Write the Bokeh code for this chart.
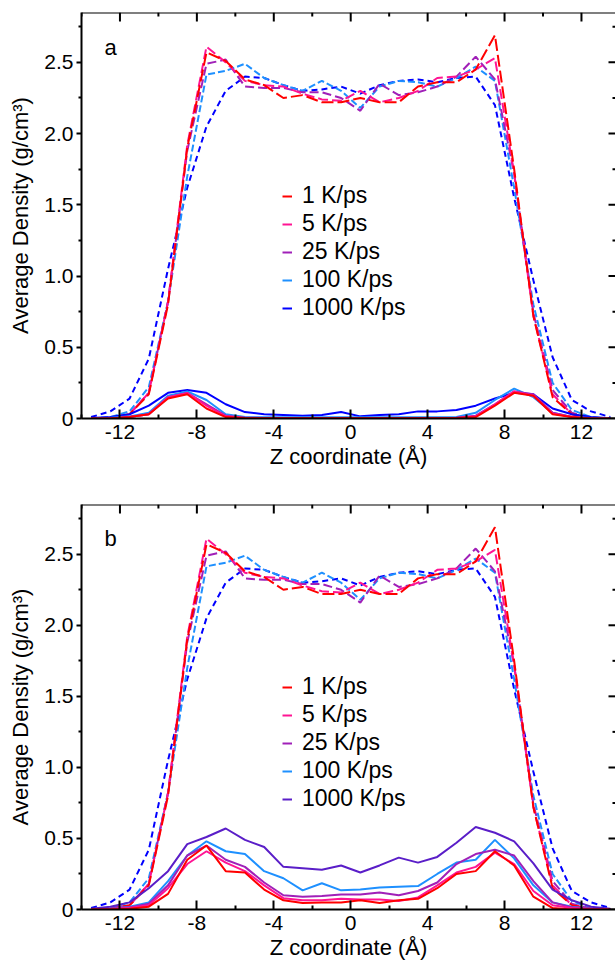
import math
from bokeh.plotting import figure
from bokeh.layouts import column
from bokeh.models import Legend, LegendItem, FixedTicker, Label, Range1d, Span
from bokeh.embed import file_html
from bokeh.resources import INLINE

# ---------------- data ----------------
z = [-13.5 + i for i in range(28)]
rates = ["1 K/ps", "5 K/ps", "25 K/ps", "100 K/ps", "1000 K/ps"]

# dashed curves (same in both panels)
dash_1 = [0.0, 0.005, 0.03, 0.17, 0.80, 1.90, 2.57, 2.51, 2.38, 2.34, 2.25, 2.27, 2.22, 2.22,
          2.25, 2.22, 2.22, 2.33, 2.36, 2.36, 2.45, 2.69, 1.75, 0.72, 0.15, 0.03, 0.005, 0.0]
dash_5 = [0.0, 0.005, 0.03, 0.18, 0.82, 1.92, 2.61, 2.50, 2.37, 2.34, 2.33, 2.28, 2.24, 2.23,
          2.30, 2.22, 2.25, 2.30, 2.39, 2.40, 2.45, 2.53, 1.72, 0.72, 0.17, 0.03, 0.005, 0.0]
dash_25 = [0.0, 0.005, 0.03, 0.18, 0.82, 1.88, 2.49, 2.52, 2.33, 2.32, 2.32, 2.29, 2.29, 2.25,
           2.16, 2.35, 2.27, 2.29, 2.33, 2.40, 2.54, 2.38, 1.72, 0.74, 0.20, 0.04, 0.005, 0.0]
dash_100 = [0.0, 0.01, 0.05, 0.22, 0.82, 1.70, 2.415, 2.44, 2.49, 2.39, 2.34, 2.30, 2.37, 2.30,
            2.18, 2.33, 2.37, 2.36, 2.33, 2.39, 2.47, 2.37, 1.62, 0.80, 0.25, 0.06, 0.01, 0.0]
dash_1000 = [0.01, 0.05, 0.14, 0.42, 1.05, 1.62, 2.05, 2.30, 2.40, 2.39, 2.34, 2.30, 2.31, 2.33,
             2.28, 2.34, 2.37, 2.38, 2.36, 2.39, 2.40, 2.20, 1.55, 0.97, 0.43, 0.13, 0.05, 0.01]

# solid curves, panel a
a_1 = [0.0, 0.0, 0.01, 0.03, 0.14, 0.17, 0.07, 0.01, 0.003, 0.002, 0.002, 0.002, 0.002, 0.002,
       0.002, 0.002, 0.002, 0.002, 0.002, 0.003, 0.01, 0.09, 0.18, 0.16, 0.03, 0.01, 0.0, 0.0]
a_5 = [0.0, 0.0, 0.01, 0.03, 0.15, 0.18, 0.09, 0.015, 0.004, 0.003, 0.003, 0.003, 0.003, 0.003,
       0.003, 0.003, 0.003, 0.003, 0.003, 0.004, 0.015, 0.10, 0.19, 0.16, 0.035, 0.01, 0.0, 0.0]
a_25 = [0.0, 0.0, 0.01, 0.03, 0.15, 0.18, 0.10, 0.02, 0.005, 0.004, 0.004, 0.004, 0.004, 0.004,
        0.004, 0.004, 0.004, 0.004, 0.004, 0.005, 0.02, 0.10, 0.19, 0.17, 0.04, 0.01, 0.0, 0.0]
a_100 = [0.0, 0.005, 0.015, 0.04, 0.16, 0.19, 0.13, 0.03, 0.01, 0.008, 0.008, 0.008, 0.008, 0.008,
         0.008, 0.008, 0.008, 0.008, 0.008, 0.01, 0.04, 0.13, 0.21, 0.15, 0.04, 0.01, 0.003, 0.0]
a_1000 = [0.003, 0.01, 0.03, 0.09, 0.18, 0.20, 0.18, 0.10, 0.045, 0.03, 0.025, 0.02, 0.025, 0.045,
          0.015, 0.025, 0.03, 0.05, 0.05, 0.06, 0.09, 0.14, 0.18, 0.17, 0.07, 0.03, 0.01, 0.002]

# solid curves, panel b
b_1 = [0.0, 0.0, 0.005, 0.02, 0.11, 0.35, 0.45, 0.27, 0.26, 0.14, 0.065, 0.045, 0.05, 0.05,
       0.065, 0.045, 0.065, 0.075, 0.15, 0.25, 0.27, 0.41, 0.31, 0.09, 0.01, 0.0, 0.0, 0.0]
b_5 = [0.0, 0.003, 0.01, 0.03, 0.15, 0.32, 0.41, 0.33, 0.27, 0.17, 0.08, 0.065, 0.065, 0.075,
       0.07, 0.07, 0.06, 0.085, 0.17, 0.26, 0.30, 0.40, 0.32, 0.13, 0.03, 0.01, 0.003, 0.0]
b_25 = [0.0, 0.005, 0.015, 0.04, 0.17, 0.38, 0.45, 0.35, 0.30, 0.19, 0.10, 0.09, 0.095, 0.105,
        0.105, 0.12, 0.10, 0.13, 0.19, 0.32, 0.39, 0.42, 0.38, 0.20, 0.05, 0.015, 0.005, 0.0]
b_100 = [0.0, 0.005, 0.02, 0.05, 0.20, 0.38, 0.48, 0.41, 0.39, 0.27, 0.22, 0.135, 0.185, 0.135,
         0.14, 0.155, 0.16, 0.165, 0.25, 0.33, 0.35, 0.49, 0.36, 0.17, 0.05, 0.02, 0.005, 0.0]
b_1000 = [0.005, 0.02, 0.05, 0.15, 0.27, 0.46, 0.51, 0.57, 0.49, 0.44, 0.30, 0.29, 0.28, 0.31,
          0.26, 0.31, 0.365, 0.33, 0.37, 0.47, 0.58, 0.54, 0.48, 0.325, 0.14, 0.065, 0.02, 0.005]

x_major = [-12, -8, -4, 0, 4, 8, 12]
x_minor = [-14, -10, -6, -2, 2, 6, 10, 14]
x_labels = {v: str(v) for v in x_major}
y_major = [0, 0.5, 1.0, 1.5, 2.0, 2.5]
y_minor = [0.25, 0.75, 1.25, 1.75, 2.25, 2.75]
y_labels = {0: "0", 0.5: "0.5", 1.0: "1.0", 1.5: "1.5", 2.0: "2.0", 2.5: "2.5"}

# ---------------- styling ----------------
FONT = "Liberation Sans"
X_MIN, X_MAX = -14, 13.77
Y_MIN, Y_MAX = 0, 2.85
dash_colors = ["#ff0000", "#ff1493", "#a020b8", "#1e90ff", "#0000ff"]
dash_styles = ["12 4", "10 4", "9 4", "7 3", "6 4"]
solid_colors_a = ["#ff0000", "#ff1493", "#a020b8", "#1e90ff", "#0000ff"]
solid_colors_b = ["#ff0000", "#ff1493", "#a020b8", "#1e90ff", "#5a1ec8"]


def make_panel(letter, solids, solid_colors, top, bottom):
    p = figure(width=615, height=481, output_backend="svg", toolbar_location=None,
               x_range=Range1d(X_MIN, X_MAX), y_range=Range1d(Y_MIN, Y_MAX),
               min_border_left=81, min_border_right=0, min_border_top=top,
               min_border_bottom=bottom, outline_line_color=None,
               background_fill_color="white", border_fill_color="white")
    p.grid.visible = False

    dashed = [dash_1, dash_5, dash_25, dash_100, dash_1000]
    order = [4, 3, 2, 1, 0]
    for i in order:
        p.line(z, dashed[i], line_color=dash_colors[i], line_width=2, line_dash=dash_styles[i])
    solid_r = {}
    for i in order:
        solid_r[i] = p.line(z, solids[i], line_color=solid_colors[i], line_width=2)

    items = [LegendItem(label=name, renderers=[solid_r[i]]) for i, name in enumerate(rates)]
    leg = Legend(items=items, location=(201, 97), border_line_color=None,
                 background_fill_alpha=0, padding=0, margin=0, spacing=1,
                 label_height=20, glyph_height=20, glyph_width=10, label_standoff=10,
                 label_text_font=FONT, label_text_font_size="23px", label_text_color="black")
    p.add_layout(leg, "center")

    xt = FixedTicker(ticks=x_major, minor_ticks=x_minor)
    yt = FixedTicker(ticks=y_major, minor_ticks=y_minor)

    xa = p.xaxis[0]
    xa.ticker = xt
    xa.major_label_overrides = x_labels
    xa.axis_label = "Z coordinate (Å)"
    ya = p.yaxis[0]
    ya.ticker = yt
    ya.major_label_overrides = y_labels
    ya.axis_label = "Average Density (g/cm³)"

    for ax in (xa, ya):
        ax.axis_line_width = 2
        ax.major_tick_line_width = 2
        ax.minor_tick_line_width = 2
        ax.major_label_text_font = FONT
        ax.major_label_text_font_size = "21px"
        ax.major_label_text_color = "black"
        ax.axis_label_text_font = FONT
        ax.axis_label_text_font_size = "22px"
        ax.axis_label_text_font_style = "normal"
        ax.axis_label_text_color = "black"
    xa.major_tick_in, xa.major_tick_out = 9, 0
    xa.minor_tick_in, xa.minor_tick_out = 4, 0
    xa.major_label_standoff = 6
    xa.axis_label_standoff = 2
    ya.major_tick_in, ya.major_tick_out = 0, 5
    ya.minor_tick_in, ya.minor_tick_out = 0, 3
    ya.major_label_standoff = 3
    ya.axis_label_standoff = 8

    # mirrored frame on top (line + inward ticks) and inward ticks on the right
    p.add_layout(Span(location=Y_MAX, dimension="width", line_color="black", line_width=2))
    p.ray(x=x_major, y=[Y_MAX] * len(x_major), length=9, length_units="screen",
          angle=-math.pi / 2, line_color="black", line_width=2)
    p.ray(x=x_minor, y=[Y_MAX] * len(x_minor), length=4, length_units="screen",
          angle=-math.pi / 2, line_color="black", line_width=2)
    p.ray(x=[X_MAX] * len(y_major), y=y_major, length=7, length_units="screen",
          angle=math.pi, line_color="black", line_width=2)
    p.ray(x=[X_MAX] * len(y_minor), y=y_minor, length=3, length_units="screen",
          angle=math.pi, line_color="black", line_width=2)

    p.add_layout(Label(x=23, y=371, x_units="screen", y_units="screen", text=letter,
                       text_font=FONT, text_font_size="22px", text_baseline="alphabetic",
                       text_color="black"))
    return p


p1 = make_panel("a", [a_1, a_5, a_25, a_100, a_1000], solid_colors_a, 12, 63)
p2 = make_panel("b", [b_1, b_5, b_25, b_100, b_1000], solid_colors_b, 23, 52)

layout = column(p1, p2, spacing=0)
open("out.html", "w").write(file_html(layout, INLINE))
